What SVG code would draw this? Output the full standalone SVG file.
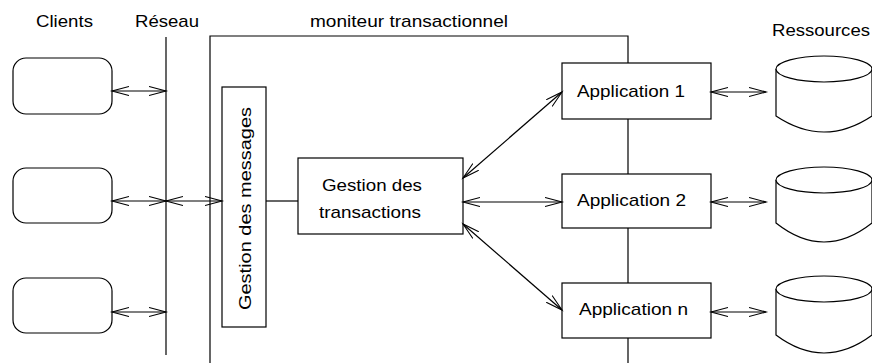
<svg xmlns="http://www.w3.org/2000/svg" width="872" height="363" viewBox="0 0 872 363">
<style>
  .ln { stroke:#000; stroke-width:1.2; fill:none; }
  .bx { stroke:#000; stroke-width:1.2; fill:#fff; }
  .ar { stroke:#000; stroke-width:1.2; fill:none; marker-start:url(#ah); marker-end:url(#ah); }
  text { font-family:"Liberation Sans", Arial, sans-serif; font-size:17px; fill:#000; }
</style>
<defs>
  <marker id="ah" markerUnits="userSpaceOnUse" markerWidth="20" markerHeight="12" refX="17" refY="5" orient="auto-start-reverse" viewBox="0 0 20 12">
    <path d="M0,0.5 L17,5 L0,9.5" fill="none" stroke="#000" stroke-width="1.1"/>
  </marker>
</defs>
<rect width="872" height="363" fill="#fff"/>

<g id="labels">
  <text x="36" y="27" textLength="57" lengthAdjust="spacingAndGlyphs">Clients</text>
  <text x="135" y="27" textLength="64" lengthAdjust="spacingAndGlyphs">Réseau</text>
  <text x="310" y="27" textLength="198" lengthAdjust="spacingAndGlyphs">moniteur transactionnel</text>
  <text x="772" y="36" textLength="98" lengthAdjust="spacingAndGlyphs">Ressources</text>
</g>

<g id="moniteur">
  <path class="ln" d="M210,363 V36 H628 V363"/>
</g>
<g id="reseau">
  <line class="ln" x1="166" y1="37" x2="166" y2="355"/>
</g>

<g id="client1"><rect class="bx" x="13" y="58" width="99" height="56" rx="13"/></g>
<g id="client2"><rect class="bx" x="13" y="168" width="99" height="55" rx="13"/></g>
<g id="client3"><rect class="bx" x="13" y="278" width="99" height="55" rx="13"/></g>

<g id="gestion-messages">
  <rect class="bx" x="222" y="87" width="44" height="240"/>
  <text transform="translate(251,208.5) rotate(-90)" x="0" y="0" text-anchor="middle" textLength="203" lengthAdjust="spacingAndGlyphs">Gestion des messages</text>
</g>

<g id="gestion-transactions">
  <rect class="bx" x="298" y="158" width="165" height="76"/>
  <text x="322" y="191" textLength="100" lengthAdjust="spacingAndGlyphs">Gestion des</text>
  <text x="319" y="218" textLength="102" lengthAdjust="spacingAndGlyphs">transactions</text>
</g>

<g id="app1">
  <rect class="bx" x="562" y="63" width="149" height="56"/>
  <text x="577" y="97" textLength="108" lengthAdjust="spacingAndGlyphs">Application 1</text>
</g>
<g id="app2">
  <rect class="bx" x="562" y="174" width="149" height="54"/>
  <text x="577" y="206" textLength="109" lengthAdjust="spacingAndGlyphs">Application 2</text>
</g>
<g id="appn">
  <rect class="bx" x="562" y="283" width="149" height="55"/>
  <text x="579" y="315" textLength="109" lengthAdjust="spacingAndGlyphs">Application n</text>
</g>

<g id="ressource1">
  <path class="bx" d="M776,69 V116 Q824,148 872,116 V69"/>
  <ellipse class="bx" cx="824" cy="69" rx="48" ry="13"/>
</g>
<g id="ressource2">
  <path class="bx" d="M776,180 V223 Q824,261 872,223 V180"/>
  <ellipse class="bx" cx="824" cy="180" rx="48" ry="13"/>
</g>
<g id="ressource3">
  <path class="bx" d="M776,289 V335 Q824,371 872,335 V289"/>
  <ellipse class="bx" cx="824" cy="289" rx="48" ry="13"/>
</g>

<g id="connectors">
  <line class="ar" x1="112" y1="91" x2="166" y2="91"/>
  <line class="ar" x1="112" y1="201" x2="166" y2="201"/>
  <line class="ar" x1="112" y1="312" x2="166" y2="312"/>
  <line class="ar" x1="166" y1="201" x2="222" y2="201"/>
  <line class="ln" x1="266" y1="201" x2="298" y2="201"/>
  <line class="ar" x1="463" y1="178" x2="562" y2="92"/>
  <line class="ar" x1="463" y1="202" x2="562" y2="202"/>
  <line class="ar" x1="463" y1="224" x2="562" y2="310"/>
  <line class="ar" x1="711" y1="92" x2="766" y2="92"/>
  <line class="ar" x1="711" y1="202" x2="766" y2="202"/>
  <line class="ar" x1="711" y1="312" x2="766" y2="312"/>
</g>
</svg>
